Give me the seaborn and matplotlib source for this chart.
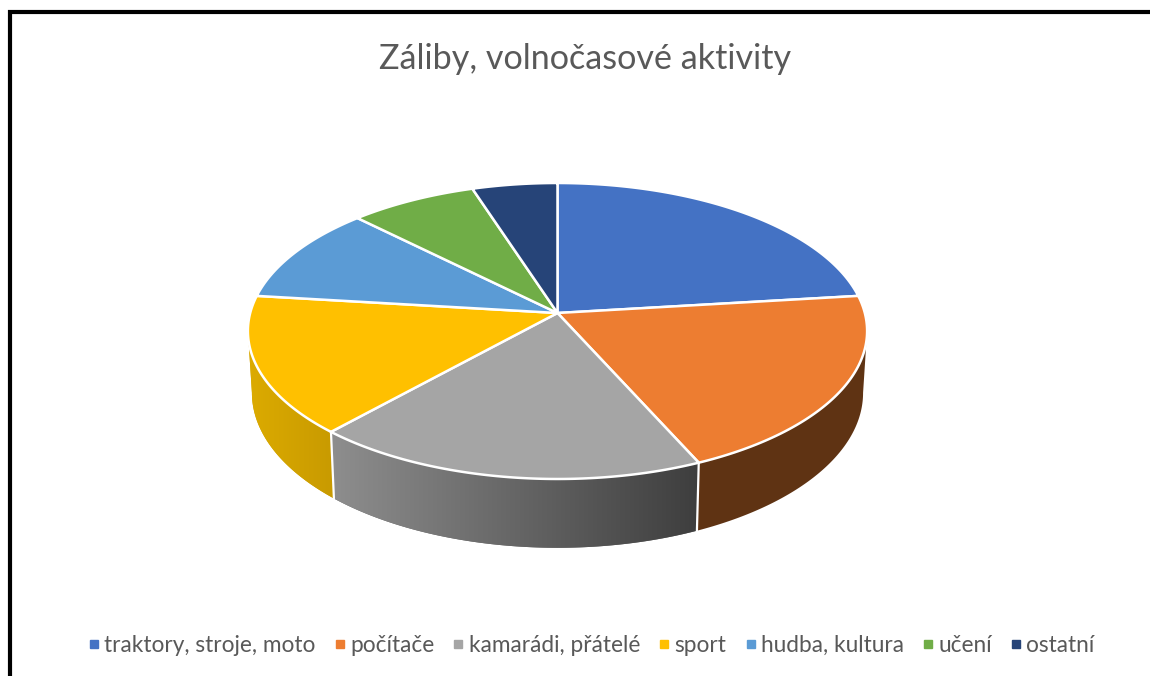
import numpy as np
import matplotlib
matplotlib.use("Agg")
import matplotlib.pyplot as plt
from matplotlib.colors import to_rgb
from matplotlib.lines import Line2D
from matplotlib.patches import Polygon
import seaborn as sns

title = "Záliby, volnočasové aktivity"
categories = ["traktory, stroje, moto", "počítače", "kamarádi, přátelé", "sport",
              "hudba, kultura", "učení", "ostatní"]
shares = [23.1, 20.2, 18.4, 15.2, 10.6, 7.5, 5.0]
top_colors = ["#4472C4", "#ED7D31", "#A5A5A5", "#FFC000", "#5B9BD5", "#70AD47", "#264478"]
# Rim shading of each slice, left end to right end
rim_left = ["#2f5597", "#5f3313", "#8e8e8e", "#dcab00", "#3f76a8", "#4f7a32", "#1a3054"]
rim_right = ["#2f5597", "#5f3313", "#3e3e3e", "#c89a00", "#3f76a8", "#4f7a32", "#1a3054"]

sns.set_theme(style="white")
plt.rcParams["font.family"] = ["Lato", "DejaVu Sans"]
palette = sns.color_palette(top_colors)

# Tilted disc: projective mapping of the unit circle onto the page
CX, CY = 557.5, 313.0
A, B, K = 145.8, 307.3, 0.1216
DEPTH_SCALE_X, DEPTH_SCALE_Y, DEPTH = 0.987, 1.047, 61.0
# The rim faces the viewer between the two horizontal extremes of the disc
RIM_START = np.arccos(-K)
RIM_END = 2 * np.pi - RIM_START


def top_face(theta):
    u, v = np.sin(theta), -np.cos(theta)
    w = 1 - K * v
    return B * u / w, A * v / w


def rim_edge(theta):
    x, y = top_face(theta)
    return CX + x * DEPTH_SCALE_X, CY + y * DEPTH_SCALE_Y + DEPTH


fig = plt.figure(figsize=(11.5, 6.76), dpi=100, facecolor="white")
ax = fig.add_axes([0, 0, 1, 1])
ax.axis("off")

edges = np.radians(np.cumsum([0] + shares) * 3.6)

# Rim pieces: a flat base polygon, then a horizontal gradient clipped to it
for i in range(len(shares)):
    start, end = max(edges[i], RIM_START), min(edges[i + 1], RIM_END)
    if start >= end:
        continue
    th = np.linspace(start, end, 200)
    tx, ty = top_face(th)
    tx, ty = tx + CX, ty + CY
    bx, by = rim_edge(th)
    xs = np.r_[tx, bx[::-1]]
    ys = np.r_[ty, by[::-1]]
    c0, c1 = np.array(to_rgb(rim_left[i])), np.array(to_rgb(rim_right[i]))
    base = Polygon(np.c_[xs, ys], closed=True, facecolor=(c0 + c1) / 2, edgecolor="none", zorder=2)
    ax.add_patch(base)
    if rim_left[i] != rim_right[i]:
        ramp = np.linspace(0, 1, 256)[None, :, None]
        image = c0[None, None, :] + (c1 - c0)[None, None, :] * ramp
        im = ax.imshow(image, extent=(xs.min(), xs.max(), ys.max(), ys.min()), aspect="auto",
                       interpolation="bilinear", zorder=2.5)
        im.set_clip_path(base)

ax.set_xlim(0, 1150)
ax.set_ylim(676, 0)

# White seams on the visible rim
for e in edges:
    if RIM_START < e < RIM_END:
        tx, ty = top_face(e)
        bx, by = rim_edge(e)
        ax.plot([tx + CX, bx], [ty + CY, by], color="white", lw=1.6, zorder=3)

# Upper face of the slices
for i in range(len(shares)):
    th = np.linspace(edges[i], edges[i + 1], 200)
    tx, ty = top_face(th)
    ax.fill(np.r_[CX, tx + CX], np.r_[CY, ty + CY], facecolor=palette[i],
            edgecolor="white", lw=1.8, joinstyle="round", zorder=4)

# Chart frame
ax.plot([10, 10, 1160], [690, 12, 12], color="black", lw=3.0, solid_joinstyle="miter",
        clip_on=False, zorder=5)

ax.set_title(title, fontsize=24.6, color="#595959", y=0.886, loc="center", x=0.5087)

handles = [Line2D([], [], ls="", marker="s", ms=5.2, mfc=c, mec=c, label=n)
           for c, n in zip(palette, categories)]
ax.legend(handles=handles, loc="center", bbox_to_anchor=(588 / 1150, 1 - 645 / 676),
          ncol=7, frameon=False, fontsize=16.3, labelcolor="#595959",
          handletextpad=-0.1, columnspacing=0.52, handlelength=1.1, borderpad=0)

fig.savefig("out.png", dpi=100, facecolor="white")
